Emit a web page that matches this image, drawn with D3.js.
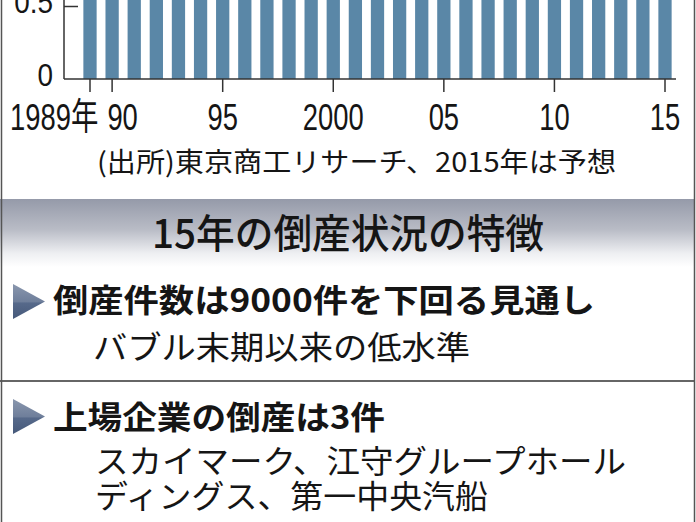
<!DOCTYPE html>
<html><head><meta charset="utf-8">
<script src="https://cdn.jsdelivr.net/npm/d3@7"></script>
<style>html,body{margin:0;padding:0;background:#fff;overflow:hidden}</style>
</head><body>
<svg id="c" width="696" height="522"></svg>
<script>
// ---- data ----
const years = [1989,1990,1991,1992,1993,1994,1995,1996,1997,1998,1999,2000,2001,2002,2003,2004,2005,2006,2007,2008,2009,2010,2011,2012,2013,2014,2015];
// 倒産件数（万件）
const bankruptcies = [0.7234,0.6468,1.0723,1.4069,1.4564,1.4061,1.5108,1.4834,1.6464,1.8988,1.5352,1.8769,1.9164,1.9087,1.6255,1.3679,1.2998,1.3245,1.4091,1.5646,1.5480,1.3321,1.2734,1.2124,1.0855,0.9731,0.8800];
const xTickYears = [1989,1990,1995,2000,2005,2010,2015];
const xTickLabels = ["1989年","90","95","2000","05","10","15"];
const yTickValues = [0, 0.5];
const yTickLabels = ["0","0.5"];
const sourceNote = "(出所)東京商工リサーチ、2015年は予想";
const panelTitle = "15年の倒産状況の特徴";
const pointHeads = ["倒産件数は9000件を下回る見通し","上場企業の倒産は3件"];
const pointLines = [["バブル末期以来の低水準"],["スカイマーク、江守グループホール","ディングス、第一中央汽船"]];

// ---- drawing ----
const svg = d3.select("#c");
const W = 696, H = 522;
const JP = "'Noto Sans CJK JP', sans-serif";
const LAT = "'Liberation Sans', Arial, 'Noto Sans CJK JP', sans-serif";
const ink = "#151515";

const defs = svg.append("defs");
const g1 = defs.append("linearGradient").attr("id","band").attr("x1",0).attr("y1",0).attr("x2",0).attr("y2",1);
[[0,"#959aa9"],[0.45,"#b9bcc6"],[0.8,"#eeeff2"],[1,"#ffffff"]].forEach(([o,c])=>g1.append("stop").attr("offset",o).attr("stop-color",c));
const g2 = defs.append("linearGradient").attr("id","tri").attr("x1",0).attr("y1",0).attr("x2",0).attr("y2",1);
[[0,"#8a97ae"],[0.5,"#6f7f9b"],[0.55,"#56698a"],[1,"#46597a"]].forEach(([o,c])=>g2.append("stop").attr("offset",o).attr("stop-color",c));

// scales
const cx0 = 90, cx1 = 665;
const step = (cx1 - cx0) / (years.length - 1);
const pad = 0.4;
const x = d3.scaleBand().domain(years).range([cx0 - step/2, cx1 + step/2]).paddingInner(pad).paddingOuter(pad/2);
const y = d3.scaleLinear().domain([0, 0.5]).range([79, 6]);

// bars
svg.append("g").selectAll("rect").data(years).join("rect")
  .attr("x", d => x(d))
  .attr("width", x.bandwidth())
  .attr("y", (d,i) => y(bankruptcies[i]))
  .attr("height", (d,i) => y(0) - y(bankruptcies[i]))
  .attr("fill", "#5a87a7");

// y axis line and inward tick
svg.append("line").attr("x1",64).attr("x2",64).attr("y1",-2).attr("y2",y(0)).attr("stroke","#333").attr("stroke-width",1.5);
const yAx = svg.append("g").attr("transform","translate(64,0)")
  .call(d3.axisLeft(y).tickValues(yTickValues.filter(v=>v>0)).tickSize(-14).tickFormat(""));
yAx.select(".domain").remove();
yAx.selectAll(".tick line").attr("stroke","#333").attr("stroke-width",1.5);
svg.append("g").selectAll("text").data(yTickValues).join("text")
  .attr("transform", d => `translate(53,${y(d) + 7}) scale(0.9,1)`)
  .attr("text-anchor","end").attr("font-family",LAT).attr("font-size",31).attr("fill",ink)
  .text((d,i) => yTickLabels[i]);

// x axis
svg.append("line").attr("x1",64).attr("x2",676).attr("y1",y(0)).attr("y2",y(0)).attr("stroke","#333").attr("stroke-width",1.5);
const xAx = svg.append("g").attr("transform",`translate(0,${y(0)})`)
  .call(d3.axisBottom(x).tickValues(xTickYears).tickSize(13).tickSizeOuter(0).tickFormat(""));
xAx.select(".domain").remove();
xAx.selectAll(".tick line").attr("stroke","#333").attr("stroke-width",1.5);
svg.append("g").selectAll("text").data(xTickYears).join("text")
  .attr("transform", (d,i) => {
    const c = x(d) + x.bandwidth()/2;
    const px = i===0 ? 10 : i===1 ? c + 10.5 : c;
    return `translate(${px},130) scale(0.74,1)`;
  })
  .attr("text-anchor", (d,i) => i===0 ? "start" : "middle")
  .attr("font-family",LAT).attr("font-size",37).attr("fill",ink)
  .text((d,i) => xTickLabels[i]);

// source note
svg.append("text").attr("x",97).attr("y",172).attr("font-family",JP).attr("font-size",27).attr("fill",ink)
  .attr("textLength",519).attr("lengthAdjust","spacingAndGlyphs").text(sourceNote);

// gray band with title
svg.append("rect").attr("x",0).attr("y",199).attr("width",694).attr("height",68).attr("fill","url(#band)");
svg.append("text").attr("x",152).attr("y",248).attr("font-family",JP).attr("font-weight",500).attr("font-size",40).attr("fill",ink)
  .attr("textLength",392).attr("lengthAdjust","spacingAndGlyphs").text(panelTitle);

// points
const headY = [311.5, 429], headLen = [542, 332], triTop = [284, 399];
const lineY = [[359],[473,508]], lineX = [[93],[95,95]], lineLen = [[377],[531,393]];
pointHeads.forEach((h,k) => {
  const t = triTop[k];
  svg.append("path").attr("d",`M13,${t}L13,${t+35}L45,${t+17.5}Z`).attr("fill","url(#tri)");
  svg.append("text").attr("x",53).attr("y",headY[k]).attr("font-family",JP).attr("font-weight",700)
    .attr("font-size",32).attr("fill",ink).attr("textLength",headLen[k]).attr("lengthAdjust","spacingAndGlyphs").text(h);
  pointLines[k].forEach((s,j) => {
    svg.append("text").attr("x",lineX[k][j]).attr("y",lineY[k][j]).attr("font-family",JP)
      .attr("font-size",32).attr("fill",ink).attr("textLength",lineLen[k][j]).attr("lengthAdjust","spacingAndGlyphs").text(s);
  });
});

// divider and frame
svg.append("line").attr("x1",0).attr("x2",694).attr("y1",381).attr("y2",381).attr("stroke","#666").attr("stroke-width",2);
svg.append("line").attr("x1",1.5).attr("x2",1.5).attr("y1",0).attr("y2",H).attr("stroke","#555").attr("stroke-width",1.5);
svg.append("line").attr("x1",694.5).attr("x2",694.5).attr("y1",0).attr("y2",H).attr("stroke","#555").attr("stroke-width",1.5);
</script>
</body></html>
